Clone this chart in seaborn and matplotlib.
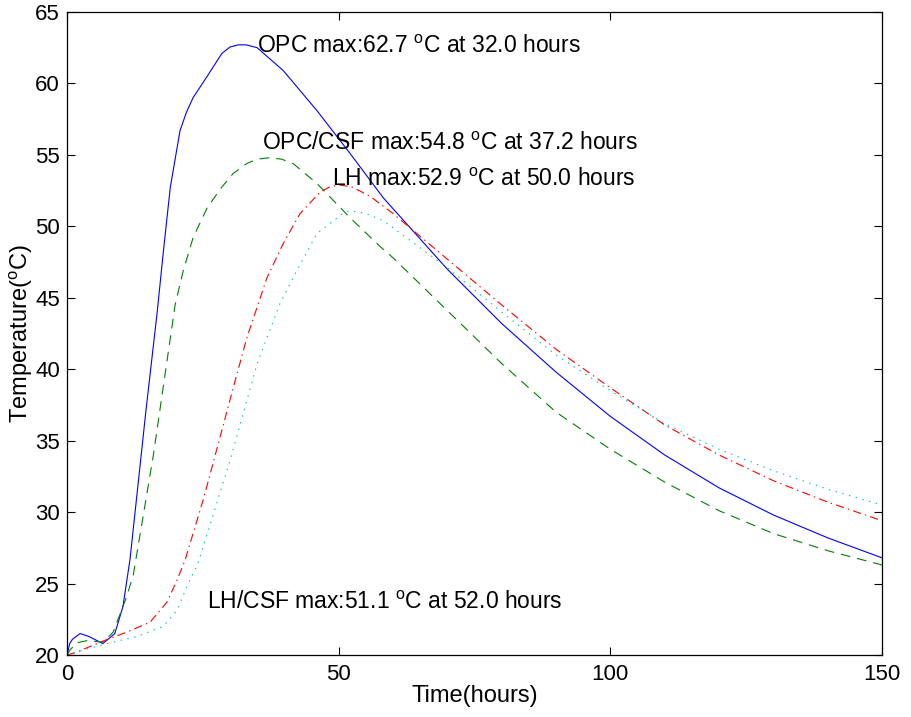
import matplotlib
matplotlib.use("Agg")
import matplotlib.pyplot as plt
import seaborn as sns

# --- datos (horas, grados C) ---
t_opc = [0, 0.5, 1, 2.4, 4, 6.6, 8.8, 10.3, 11.6, 14.5, 16.6, 17.7, 19.0, 20.8, 22.0, 23.2, 25.8, 28.5,
         30.0, 31.5, 33.0, 35, 39.8, 46, 52.1, 58.2, 70, 80, 90, 100, 110, 120, 130, 140, 150]
T_opc = [20, 20.8, 21.1, 21.5, 21.3, 20.8, 21.5, 23.4, 26.7, 37.0, 44.0, 48.1, 52.7, 56.7, 58.0, 59.0, 60.5, 62.1,
         62.55, 62.7, 62.7, 62.5, 60.9, 58.1, 55.1, 52.0, 47.0, 43.2, 39.8, 36.7, 34.0, 31.7, 29.8, 28.2, 26.8]

t_opc_csf = [0, 0.55, 1.8, 3.6, 6.6, 8.5, 11, 12.2, 15.9, 19.9, 21.4, 23.2, 25.8, 28.5, 30.6, 33.1, 35.0,
             37.2, 39.5, 41.6, 46, 52.1, 57.6, 60, 70, 80, 90, 100, 110, 120, 130, 140, 150]
T_opc_csf = [20, 20.35, 20.85, 21.0, 20.9, 21.6, 24.1, 25.6, 34.0, 44.5, 46.9, 49.2, 51.3, 52.75, 53.7, 54.4, 54.7,
             54.8, 54.7, 54.4, 53.0, 50.6, 48.6, 47.8, 44.1, 40.4, 37.0, 34.4, 32.1, 30.1, 28.5, 27.3, 26.3]

t_lh = [0, 1.8, 6.1, 11, 15.3, 18.4, 20.2, 21.7, 25.1, 30.6, 33.1, 36.8, 39.8, 42.9, 46.6, 48.3, 50,
        52.5, 55.8, 60, 70, 80, 90, 100, 110, 120, 130, 140, 150]
T_lh = [20, 20.2, 20.9, 21.6, 22.3, 23.7, 25.2, 26.6, 30.9, 38.7, 42.2, 46.4, 48.8, 50.9, 52.4, 52.75, 52.9,
        52.75, 52.1, 50.9, 47.7, 44.5, 41.4, 38.7, 36.1, 34.0, 32.2, 30.7, 29.4]

t_lh_csf = [0, 3.5, 7.4, 12.9, 17.7, 20.2, 22.3, 24.1, 30.0, 35.0, 39.2, 42.3, 46.0, 50.8, 52, 55,
            58.2, 60, 70, 80, 90, 100, 110, 120, 130, 140, 150]
T_lh_csf = [20, 20.4, 20.8, 21.3, 22.0, 23.1, 25.0, 26.4, 33.6, 40.4, 44.6, 46.9, 49.5, 50.9, 51.1, 50.9,
            50.4, 49.9, 47.1, 44.0, 41.0, 38.5, 36.2, 34.4, 32.9, 31.6, 30.5]

# textos: (x, y, etiqueta)
labels = [
    (35.0, 62.6, 'OPC max:62.7 $^{\\rm o}$C at 32.0 hours'),
    (35.8, 55.8, 'OPC/CSF max:54.8 $^{\\rm o}$C at 37.2 hours'),
    (48.7, 53.25, 'LH max:52.9 $^{\\rm o}$C at 50.0 hours'),
    (25.7, 23.65, 'LH/CSF max:51.1 $^{\\rm o}$C at 52.0 hours'),
]

sns.set_style("white")
plt.rcParams['font.family'] = ['Liberation Sans', 'DejaVu Sans']
plt.rcParams['mathtext.fontset'] = 'custom'
plt.rcParams['mathtext.rm'] = 'Liberation Sans'
plt.rcParams['lines.scale_dashes'] = False
plt.rcParams['text.color'] = 'black'
plt.rcParams['axes.labelcolor'] = 'black'
plt.rcParams['xtick.color'] = 'black'
plt.rcParams['ytick.color'] = 'black'

fig = plt.figure(figsize=(9.12, 7.17), dpi=100)
ax = fig.add_axes([67 / 912, 62 / 717, 815 / 912, 643 / 717])

lw = 0.8
sns.lineplot(x=t_opc, y=T_opc, ax=ax, color='#0000ff', linewidth=lw, sort=False)
sns.lineplot(x=t_opc_csf, y=T_opc_csf, ax=ax, color='#008000', linewidth=lw, sort=False,
             linestyle=(0, (7, 5)))
sns.lineplot(x=t_lh, y=T_lh, ax=ax, color='#ff0000', linewidth=lw, sort=False,
             linestyle=(0, (6, 3, 1, 3)))
sns.lineplot(x=t_lh_csf, y=T_lh_csf, ax=ax, color='#00bfbf', linewidth=lw, sort=False,
             linestyle=(0, (1, 4)))

for x, y, s in labels:
    ax.text(x, y, s, fontsize=16.5, ha='left', va='center', color='black')

ax.set_xlim(0, 150)
ax.set_ylim(20, 65)
ax.set_xticks([0, 50, 100, 150])
ax.set_yticks(range(20, 66, 5))
ax.set_xlabel('Time(hours)', fontsize=17, labelpad=0)
ax.set_ylabel('Temperature($^{\\rm o}$C)', fontsize=17, labelpad=0)
ax.tick_params(direction='in', length=6, width=0.8, labelsize=16, top=True, right=True,
               bottom=True, left=True)
ax.tick_params(axis='x', pad=6.5)
ax.tick_params(axis='y', pad=5)
for sp in ax.spines.values():
    sp.set_linewidth(0.9)
    sp.set_color('black')

fig.savefig('out.png', dpi=100)
